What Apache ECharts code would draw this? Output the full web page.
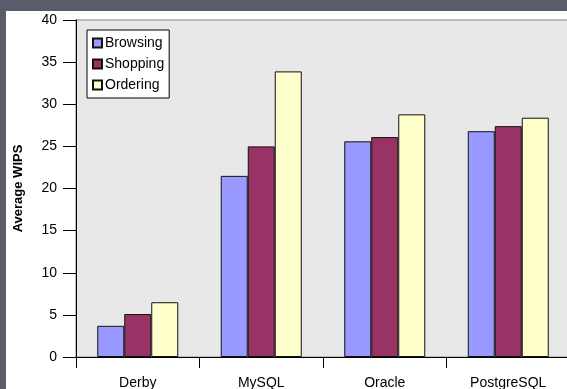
<!DOCTYPE html>
<html>
<head>
<meta charset="utf-8">
<script src="https://cdn.jsdelivr.net/npm/echarts@6/dist/echarts.min.js"></script>
<style>
html,body{margin:0;padding:0;background:#5a5b6b;width:567px;height:389px;overflow:hidden;}
#panel{position:absolute;left:6px;top:11px;width:561px;height:378px;background:#ffffff;}
#chart{position:absolute;left:0;top:0;width:567px;height:389px;}
</style>
</head>
<body>
<div id="panel"></div>
<div id="chart"></div>
<script>
var categories = ['Derby', 'MySQL', 'Oracle', 'PostgreSQL'];
var browsing = [3.7, 21.5, 25.6, 26.8];
var shopping = [5.1, 25.0, 26.1, 27.4];
var ordering = [6.5, 33.9, 28.8, 28.4];
var yTicks = [0, 5, 10, 15, 20, 25, 30, 35, 40];

var font = 'Liberation Sans, Arial, sans-serif';
var chart = echarts.init(document.getElementById('chart'), null, {renderer: 'canvas'});
function bar(name, data, color) {
  return {
    name: name, type: 'bar', data: data,
    barWidth: 27, barGap: '0%',
    itemStyle: {color: color, borderColor: '#111', borderWidth: 1},
    emphasis: {disabled: true}
  };
}
chart.setOption({
  animation: false,
  backgroundColor: 'transparent',
  textStyle: {fontFamily: font},
  grid: {left: 76, top: 20, width: 494, bottom: 32, containLabel: false, outerBoundsMode: 'none',
         show: true, backgroundColor: '#e8e8e8', borderColor: '#a8a8a8', borderWidth: 1.5},
  legend: {
    orient: 'vertical', left: 87, top: 30,
    backgroundColor: '#ffffff', borderColor: '#000', borderWidth: 1,
    padding: [5, 5, 5, 5], itemWidth: 9, itemHeight: 9, itemGap: 5,
    icon: 'rect',
    textStyle: {fontFamily: font, fontSize: 14, color: '#000', padding: [0, 0, 0, -2], lineHeight: 16},
    data: ['Browsing', 'Shopping', 'Ordering']
  },
  xAxis: {
    type: 'category', data: categories,
    axisLine: {lineStyle: {color: '#000', width: 1}},
    axisTick: {show: true, length: 11, lineStyle: {color: '#000'}},
    axisLabel: {color: '#000', fontSize: 14, fontFamily: font, margin: 19}
  },
  yAxis: {
    type: 'value', min: yTicks[0], max: yTicks[yTicks.length - 1], interval: 5,
    name: 'Average WIPS', nameLocation: 'middle', nameGap: 51,
    nameTextStyle: {fontWeight: 'bold', fontSize: 13, color: '#000', fontFamily: font},
    axisLine: {show: true, lineStyle: {color: '#000', width: 1}},
    axisTick: {show: true, length: 13, lineStyle: {color: '#000'}},
    splitLine: {show: false},
    axisLabel: {color: '#000', fontSize: 14, fontFamily: font, margin: 19}
  },
  series: [
    bar('Browsing', browsing, '#9999ff'),
    bar('Shopping', shopping, '#993366'),
    bar('Ordering', ordering, '#ffffcc')
  ]
});
</script>
</body>
</html>
